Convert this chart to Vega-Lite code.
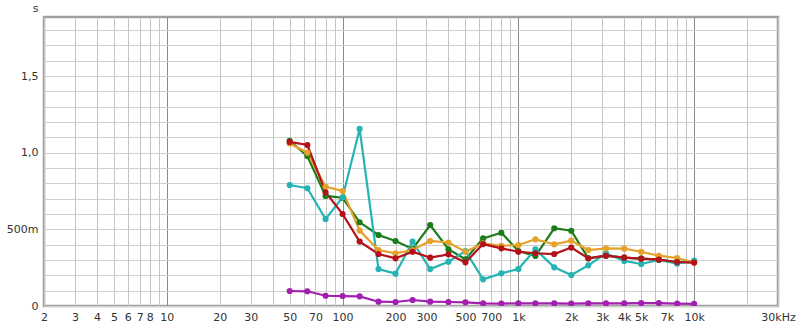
{
  "$schema": "https://vega.github.io/schema/vega-lite/v6.json",
  "width": 734,
  "height": 289,
  "autosize": {"type": "none"},
  "padding": {"left": 44, "top": 17, "right": 22, "bottom": 24},
  "background": "white",
  "config": {
    "view": {"stroke": "#a0a0a0", "strokeWidth": 2.5},
    "axis": {"labelFont": "DejaVu Sans", "labelFontSize": 11, "labelColor": "#333", "titleFont": "DejaVu Sans", "titleFontSize": 11, "titleColor": "#333", "titleFontWeight": "normal"}
  },
  "datasets": {
    "rt": [
      {"f": 50, "s": "s1", "v": 1.078}, {"f": 63, "s": "s1", "v": 0.978}, {"f": 80, "s": "s1", "v": 0.718}, {"f": 100, "s": "s1", "v": 0.706}, {"f": 125, "s": "s1", "v": 0.546}, {"f": 160, "s": "s1", "v": 0.463}, {"f": 200, "s": "s1", "v": 0.424}, {"f": 250, "s": "s1", "v": 0.372}, {"f": 315, "s": "s1", "v": 0.528}, {"f": 400, "s": "s1", "v": 0.37}, {"f": 500, "s": "s1", "v": 0.305}, {"f": 630, "s": "s1", "v": 0.441}, {"f": 800, "s": "s1", "v": 0.478}, {"f": 1000, "s": "s1", "v": 0.359}, {"f": 1250, "s": "s1", "v": 0.326}, {"f": 1600, "s": "s1", "v": 0.507}, {"f": 2000, "s": "s1", "v": 0.491}, {"f": 2500, "s": "s1", "v": 0.311}, {"f": 3150, "s": "s1", "v": 0.328}, {"f": 4000, "s": "s1", "v": 0.315}, {"f": 5000, "s": "s1", "v": 0.309}, {"f": 6300, "s": "s1", "v": 0.302}, {"f": 8000, "s": "s1", "v": 0.287}, {"f": 10000, "s": "s1", "v": 0.285},
      {"f": 50, "s": "s2", "v": 0.789}, {"f": 63, "s": "s2", "v": 0.768}, {"f": 80, "s": "s2", "v": 0.567}, {"f": 100, "s": "s2", "v": 0.709}, {"f": 125, "s": "s2", "v": 1.155}, {"f": 160, "s": "s2", "v": 0.241}, {"f": 200, "s": "s2", "v": 0.211}, {"f": 250, "s": "s2", "v": 0.42}, {"f": 315, "s": "s2", "v": 0.241}, {"f": 400, "s": "s2", "v": 0.289}, {"f": 500, "s": "s2", "v": 0.359}, {"f": 630, "s": "s2", "v": 0.174}, {"f": 800, "s": "s2", "v": 0.213}, {"f": 1000, "s": "s2", "v": 0.241}, {"f": 1250, "s": "s2", "v": 0.37}, {"f": 1600, "s": "s2", "v": 0.252}, {"f": 2000, "s": "s2", "v": 0.202}, {"f": 2500, "s": "s2", "v": 0.265}, {"f": 3150, "s": "s2", "v": 0.344}, {"f": 4000, "s": "s2", "v": 0.294}, {"f": 5000, "s": "s2", "v": 0.274}, {"f": 6300, "s": "s2", "v": 0.3}, {"f": 8000, "s": "s2", "v": 0.276}, {"f": 10000, "s": "s2", "v": 0.296},
      {"f": 50, "s": "s3", "v": 1.06}, {"f": 63, "s": "s3", "v": 1.0}, {"f": 80, "s": "s3", "v": 0.778}, {"f": 100, "s": "s3", "v": 0.75}, {"f": 125, "s": "s3", "v": 0.492}, {"f": 160, "s": "s3", "v": 0.365}, {"f": 200, "s": "s3", "v": 0.344}, {"f": 250, "s": "s3", "v": 0.365}, {"f": 315, "s": "s3", "v": 0.424}, {"f": 400, "s": "s3", "v": 0.414}, {"f": 500, "s": "s3", "v": 0.354}, {"f": 630, "s": "s3", "v": 0.409}, {"f": 800, "s": "s3", "v": 0.393}, {"f": 1000, "s": "s3", "v": 0.398}, {"f": 1250, "s": "s3", "v": 0.435}, {"f": 1600, "s": "s3", "v": 0.402}, {"f": 2000, "s": "s3", "v": 0.426}, {"f": 2500, "s": "s3", "v": 0.365}, {"f": 3150, "s": "s3", "v": 0.376}, {"f": 4000, "s": "s3", "v": 0.374}, {"f": 5000, "s": "s3", "v": 0.354}, {"f": 6300, "s": "s3", "v": 0.328}, {"f": 8000, "s": "s3", "v": 0.313}, {"f": 10000, "s": "s3", "v": 0.283},
      {"f": 50, "s": "s4", "v": 1.07}, {"f": 63, "s": "s4", "v": 1.05}, {"f": 80, "s": "s4", "v": 0.742}, {"f": 100, "s": "s4", "v": 0.6}, {"f": 125, "s": "s4", "v": 0.42}, {"f": 160, "s": "s4", "v": 0.339}, {"f": 200, "s": "s4", "v": 0.311}, {"f": 250, "s": "s4", "v": 0.354}, {"f": 315, "s": "s4", "v": 0.315}, {"f": 400, "s": "s4", "v": 0.337}, {"f": 500, "s": "s4", "v": 0.285}, {"f": 630, "s": "s4", "v": 0.404}, {"f": 800, "s": "s4", "v": 0.376}, {"f": 1000, "s": "s4", "v": 0.354}, {"f": 1250, "s": "s4", "v": 0.344}, {"f": 1600, "s": "s4", "v": 0.339}, {"f": 2000, "s": "s4", "v": 0.381}, {"f": 2500, "s": "s4", "v": 0.311}, {"f": 3150, "s": "s4", "v": 0.328}, {"f": 4000, "s": "s4", "v": 0.315}, {"f": 5000, "s": "s4", "v": 0.309}, {"f": 6300, "s": "s4", "v": 0.302}, {"f": 8000, "s": "s4", "v": 0.287}, {"f": 10000, "s": "s4", "v": 0.283},
      {"f": 50, "s": "s5", "v": 0.098}, {"f": 63, "s": "s5", "v": 0.096}, {"f": 80, "s": "s5", "v": 0.067}, {"f": 100, "s": "s5", "v": 0.065}, {"f": 125, "s": "s5", "v": 0.063}, {"f": 160, "s": "s5", "v": 0.028}, {"f": 200, "s": "s5", "v": 0.026}, {"f": 250, "s": "s5", "v": 0.039}, {"f": 315, "s": "s5", "v": 0.028}, {"f": 400, "s": "s5", "v": 0.026}, {"f": 500, "s": "s5", "v": 0.024}, {"f": 630, "s": "s5", "v": 0.017}, {"f": 800, "s": "s5", "v": 0.016}, {"f": 1000, "s": "s5", "v": 0.017}, {"f": 1250, "s": "s5", "v": 0.017}, {"f": 1600, "s": "s5", "v": 0.017}, {"f": 2000, "s": "s5", "v": 0.016}, {"f": 2500, "s": "s5", "v": 0.017}, {"f": 3150, "s": "s5", "v": 0.017}, {"f": 4000, "s": "s5", "v": 0.017}, {"f": 5000, "s": "s5", "v": 0.019}, {"f": 6300, "s": "s5", "v": 0.019}, {"f": 8000, "s": "s5", "v": 0.016}, {"f": 10000, "s": "s5", "v": 0.014}
    ]
  },
  "data": {"name": "rt"},
  "mark": {"type": "line", "strokeWidth": 2.2, "clip": true, "point": {"filled": true, "size": 38}},
  "encoding": {
    "x": {
      "field": "f", "type": "quantitative",
      "scale": {"type": "log", "domain": [2, 30000], "nice": false},
      "axis": {
        "title": null,
        "values": [2,3,4,5,6,7,8,9,10,20,30,40,50,60,70,80,90,100,200,300,400,500,600,700,800,900,1000,2000,3000,4000,5000,6000,7000,8000,9000,10000,20000,30000],
        "labelExpr": "indexof([2,3,4,5,6,7,8,10,20,30,50,70,100,200,300,500,700], datum.value) >= 0 ? '' + datum.value : indexof([1000,2000,3000,4000,5000,7000,10000], datum.value) >= 0 ? (datum.value/1000) + 'k' : datum.value == 30000 ? '30kHz' : ''",
        "labelFlush": false,
        "labelOverlap": false,
        "labelPadding": 5,
        "ticks": false,
        "domain": false,
        "gridColor": {"condition": {"test": "indexof([10,100,1000,10000], datum.value) >= 0", "value": "#8a8a8a"}, "value": "#c4c4c4"},
        "gridWidth": 1,
        "gridOpacity": 1
      }
    },
    "y": {
      "field": "v", "type": "quantitative",
      "scale": {"domain": [0, 1.885], "nice": false, "zero": true},
      "axis": {
        "title": "s",
        "titleAngle": 0,
        "titleAlign": "center",
        "titleBaseline": "middle",
        "titleX": -9,
        "titleY": -9,
        "values": [0,0.1,0.2,0.3,0.4,0.5,0.6,0.7,0.8,0.9,1.0,1.1,1.2,1.3,1.4,1.5,1.6,1.7,1.8],
        "labelExpr": "round(datum.value*10) == 0 ? '0' : round(datum.value*10) == 5 ? '500m' : round(datum.value*10) == 10 ? '1,0' : round(datum.value*10) == 15 ? '1,5' : ''",
        "labelPadding": 6,
        "ticks": false,
        "domain": false,
        "gridColor": "#d0d0d0",
        "gridOpacity": 1
      }
    },
    "color": {
      "field": "s", "type": "nominal", "legend": null,
      "scale": {"domain": ["s1", "s2", "s3", "s4", "s5"], "range": ["#1a7d1a", "#26b3b3", "#e6a12a", "#b3121b", "#a31fb0"]}
    }
  }
}
